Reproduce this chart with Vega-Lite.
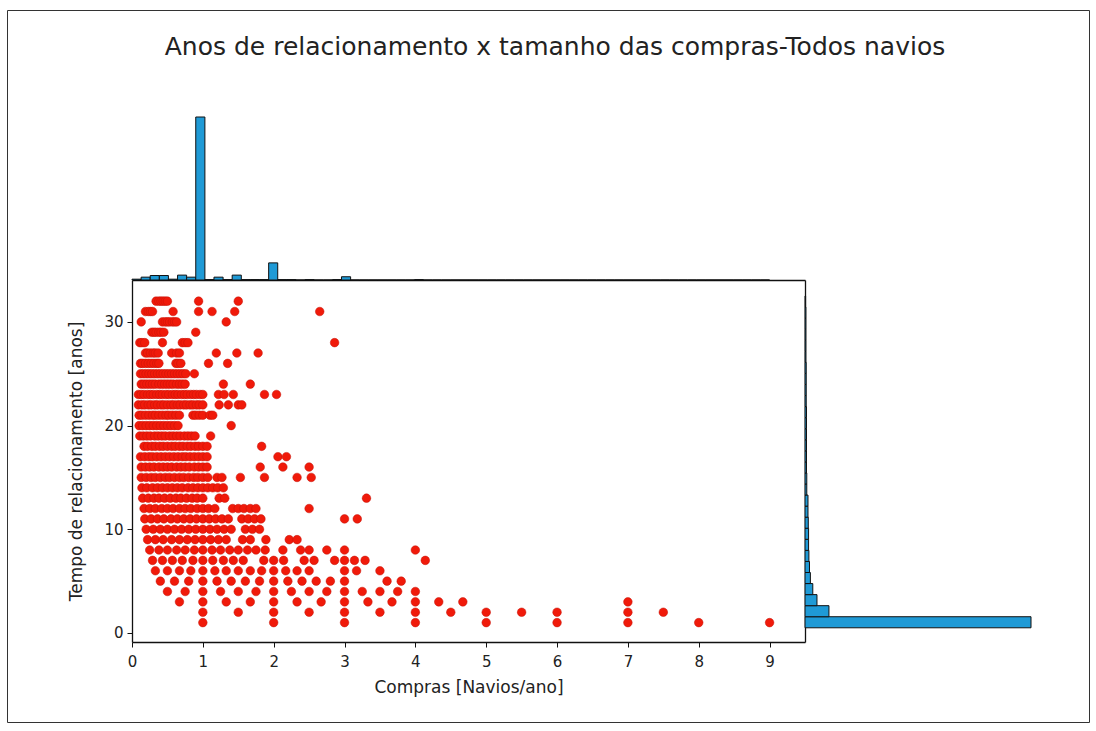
{
  "$schema": "https://vega.github.io/schema/vega-lite/v6.json",
  "width": 1082,
  "height": 712,
  "autosize": {"type": "none"},
  "padding": {"left": 7, "top": 10, "right": 7, "bottom": 9},
  "background": "white",
  "title": {
    "text": "Anos de relacionamento x tamanho das compras-Todos navios",
    "anchor": "middle",
    "frame": "group",
    "offset": -44,
    "baseline": "alphabetic",
    "dx": 7,
    "dy": 26,
    "font": "DejaVu Sans",
    "fontSize": 25,
    "fontWeight": "normal",
    "color": "#222222"
  },
  "config": {
    "view": {"stroke": "#333333", "strokeWidth": 1},
    "axis": {
      "grid": false,
      "labelFont": "DejaVu Sans",
      "labelFontSize": 15,
      "labelColor": "#222222",
      "titleFont": "DejaVu Sans",
      "titleFontSize": 17,
      "titleFontWeight": "normal",
      "titleColor": "#222222",
      "domainColor": "#111111",
      "domainWidth": 1.3,
      "tickColor": "#111111",
      "labelFlush": false,
      "labelOverlap": false
    }
  },
  "datasets": {
    "pts": [
      {"x":0.34,"y":32},{"x":0.38,"y":32},{"x":0.41,"y":32},{"x":0.44,"y":32},{"x":0.47,"y":32},{"x":0.5,"y":32},{"x":0.94,"y":32},{"x":1.5,"y":32},
      {"x":0.19,"y":31},{"x":0.23,"y":31},{"x":0.26,"y":31},{"x":0.29,"y":31},{"x":0.58,"y":31},{"x":0.94,"y":31},{"x":1.13,"y":31},{"x":1.45,"y":31},{"x":2.65,"y":31},
      {"x":0.13,"y":30},{"x":0.43,"y":30},{"x":0.47,"y":30},{"x":0.5,"y":30},{"x":0.53,"y":30},{"x":0.57,"y":30},{"x":0.6,"y":30},{"x":0.63,"y":30},{"x":1.33,"y":30},
      {"x":0.28,"y":29},{"x":0.31,"y":29},{"x":0.34,"y":29},{"x":0.38,"y":29},{"x":0.41,"y":29},{"x":0.45,"y":29},{"x":0.9,"y":29},
      {"x":0.11,"y":28},{"x":0.14,"y":28},{"x":0.18,"y":28},{"x":0.43,"y":28},{"x":0.71,"y":28},{"x":0.75,"y":28},{"x":0.79,"y":28},{"x":2.86,"y":28},
      {"x":0.19,"y":27},{"x":0.22,"y":27},{"x":0.26,"y":27},{"x":0.3,"y":27},{"x":0.33,"y":27},{"x":0.37,"y":27},{"x":0.56,"y":27},{"x":0.63,"y":27},{"x":0.67,"y":27},{"x":1.19,"y":27},{"x":1.48,"y":27},{"x":1.78,"y":27},
      {"x":0.12,"y":26},{"x":0.15,"y":26},{"x":0.19,"y":26},{"x":0.23,"y":26},{"x":0.27,"y":26},{"x":0.31,"y":26},{"x":0.35,"y":26},{"x":0.38,"y":26},{"x":0.62,"y":26},{"x":0.65,"y":26},{"x":0.69,"y":26},{"x":1.08,"y":26},{"x":1.35,"y":26},
      {"x":0.12,"y":25},{"x":0.16,"y":25},{"x":0.2,"y":25},{"x":0.24,"y":25},{"x":0.28,"y":25},{"x":0.32,"y":25},{"x":0.36,"y":25},{"x":0.4,"y":25},{"x":0.44,"y":25},{"x":0.48,"y":25},{"x":0.52,"y":25},{"x":0.56,"y":25},{"x":0.6,"y":25},{"x":0.64,"y":25},{"x":0.68,"y":25},{"x":0.72,"y":25},{"x":0.76,"y":25},{"x":0.88,"y":25},
      {"x":0.13,"y":24},{"x":0.17,"y":24},{"x":0.21,"y":24},{"x":0.25,"y":24},{"x":0.29,"y":24},{"x":0.33,"y":24},{"x":0.38,"y":24},{"x":0.42,"y":24},{"x":0.46,"y":24},{"x":0.5,"y":24},{"x":0.54,"y":24},{"x":0.58,"y":24},{"x":0.63,"y":24},{"x":0.67,"y":24},{"x":0.71,"y":24},{"x":0.75,"y":24},{"x":1.29,"y":24},{"x":1.67,"y":24},
      {"x":0.09,"y":23},{"x":0.13,"y":23},{"x":0.17,"y":23},{"x":0.22,"y":23},{"x":0.26,"y":23},{"x":0.3,"y":23},{"x":0.35,"y":23},{"x":0.39,"y":23},{"x":0.43,"y":23},{"x":0.48,"y":23},{"x":0.52,"y":23},{"x":0.57,"y":23},{"x":0.61,"y":23},{"x":0.65,"y":23},{"x":0.7,"y":23},{"x":0.74,"y":23},{"x":0.78,"y":23},{"x":0.83,"y":23},{"x":0.87,"y":23},{"x":0.91,"y":23},{"x":0.96,"y":23},{"x":1.0,"y":23},{"x":1.22,"y":23},{"x":1.3,"y":23},{"x":1.43,"y":23},{"x":1.87,"y":23},{"x":2.04,"y":23},
      {"x":0.09,"y":22},{"x":0.14,"y":22},{"x":0.18,"y":22},{"x":0.23,"y":22},{"x":0.27,"y":22},{"x":0.32,"y":22},{"x":0.36,"y":22},{"x":0.41,"y":22},{"x":0.45,"y":22},{"x":0.5,"y":22},{"x":0.55,"y":22},{"x":0.59,"y":22},{"x":0.64,"y":22},{"x":0.68,"y":22},{"x":0.73,"y":22},{"x":0.77,"y":22},{"x":0.82,"y":22},{"x":0.86,"y":22},{"x":0.91,"y":22},{"x":0.95,"y":22},{"x":1.0,"y":22},{"x":1.23,"y":22},{"x":1.36,"y":22},{"x":1.5,"y":22},{"x":1.55,"y":22},
      {"x":0.1,"y":21},{"x":0.14,"y":21},{"x":0.19,"y":21},{"x":0.24,"y":21},{"x":0.29,"y":21},{"x":0.33,"y":21},{"x":0.38,"y":21},{"x":0.43,"y":21},{"x":0.48,"y":21},{"x":0.52,"y":21},{"x":0.57,"y":21},{"x":0.62,"y":21},{"x":0.67,"y":21},{"x":0.86,"y":21},{"x":0.9,"y":21},{"x":0.95,"y":21},{"x":1.0,"y":21},{"x":1.1,"y":21},{"x":1.14,"y":21},
      {"x":0.1,"y":20},{"x":0.15,"y":20},{"x":0.2,"y":20},{"x":0.25,"y":20},{"x":0.3,"y":20},{"x":0.35,"y":20},{"x":0.4,"y":20},{"x":0.45,"y":20},{"x":0.5,"y":20},{"x":0.55,"y":20},{"x":0.6,"y":20},{"x":0.65,"y":20},{"x":1.4,"y":20},
      {"x":0.11,"y":19},{"x":0.16,"y":19},{"x":0.21,"y":19},{"x":0.26,"y":19},{"x":0.32,"y":19},{"x":0.37,"y":19},{"x":0.42,"y":19},{"x":0.47,"y":19},{"x":0.53,"y":19},{"x":0.58,"y":19},{"x":0.63,"y":19},{"x":0.68,"y":19},{"x":0.74,"y":19},{"x":0.79,"y":19},{"x":0.84,"y":19},{"x":0.89,"y":19},{"x":1.11,"y":19},
      {"x":0.17,"y":18},{"x":0.22,"y":18},{"x":0.28,"y":18},{"x":0.33,"y":18},{"x":0.39,"y":18},{"x":0.44,"y":18},{"x":0.5,"y":18},{"x":0.56,"y":18},{"x":0.61,"y":18},{"x":0.67,"y":18},{"x":0.72,"y":18},{"x":0.78,"y":18},{"x":0.83,"y":18},{"x":0.89,"y":18},{"x":0.94,"y":18},{"x":1.0,"y":18},{"x":1.06,"y":18},{"x":1.83,"y":18},
      {"x":0.12,"y":17},{"x":0.18,"y":17},{"x":0.24,"y":17},{"x":0.29,"y":17},{"x":0.35,"y":17},{"x":0.41,"y":17},{"x":0.47,"y":17},{"x":0.53,"y":17},{"x":0.59,"y":17},{"x":0.65,"y":17},{"x":0.71,"y":17},{"x":0.76,"y":17},{"x":0.82,"y":17},{"x":0.88,"y":17},{"x":0.94,"y":17},{"x":1.0,"y":17},{"x":1.06,"y":17},{"x":2.06,"y":17},{"x":2.18,"y":17},
      {"x":0.13,"y":16},{"x":0.19,"y":16},{"x":0.25,"y":16},{"x":0.31,"y":16},{"x":0.38,"y":16},{"x":0.44,"y":16},{"x":0.5,"y":16},{"x":0.56,"y":16},{"x":0.63,"y":16},{"x":0.69,"y":16},{"x":0.75,"y":16},{"x":0.81,"y":16},{"x":0.88,"y":16},{"x":0.94,"y":16},{"x":1.0,"y":16},{"x":1.06,"y":16},{"x":1.81,"y":16},{"x":2.13,"y":16},{"x":2.5,"y":16},
      {"x":0.13,"y":15},{"x":0.2,"y":15},{"x":0.27,"y":15},{"x":0.33,"y":15},{"x":0.4,"y":15},{"x":0.47,"y":15},{"x":0.53,"y":15},{"x":0.6,"y":15},{"x":0.67,"y":15},{"x":0.73,"y":15},{"x":0.8,"y":15},{"x":0.87,"y":15},{"x":0.93,"y":15},{"x":1.0,"y":15},{"x":1.07,"y":15},{"x":1.2,"y":15},{"x":1.27,"y":15},{"x":1.53,"y":15},{"x":1.87,"y":15},{"x":2.33,"y":15},{"x":2.53,"y":15},
      {"x":0.14,"y":14},{"x":0.21,"y":14},{"x":0.29,"y":14},{"x":0.36,"y":14},{"x":0.43,"y":14},{"x":0.5,"y":14},{"x":0.57,"y":14},{"x":0.64,"y":14},{"x":0.71,"y":14},{"x":0.79,"y":14},{"x":0.86,"y":14},{"x":0.93,"y":14},{"x":1.0,"y":14},{"x":1.07,"y":14},{"x":1.14,"y":14},{"x":1.21,"y":14},{"x":1.29,"y":14},
      {"x":0.15,"y":13},{"x":0.23,"y":13},{"x":0.31,"y":13},{"x":0.38,"y":13},{"x":0.46,"y":13},{"x":0.54,"y":13},{"x":0.62,"y":13},{"x":0.69,"y":13},{"x":0.77,"y":13},{"x":0.85,"y":13},{"x":0.92,"y":13},{"x":1.0,"y":13},{"x":1.23,"y":13},{"x":1.31,"y":13},{"x":3.31,"y":13},
      {"x":0.17,"y":12},{"x":0.25,"y":12},{"x":0.33,"y":12},{"x":0.42,"y":12},{"x":0.5,"y":12},{"x":0.58,"y":12},{"x":0.67,"y":12},{"x":0.75,"y":12},{"x":0.83,"y":12},{"x":0.92,"y":12},{"x":1.0,"y":12},{"x":1.08,"y":12},{"x":1.17,"y":12},{"x":1.42,"y":12},{"x":1.5,"y":12},{"x":1.58,"y":12},{"x":1.67,"y":12},{"x":1.75,"y":12},{"x":2.5,"y":12},
      {"x":0.18,"y":11},{"x":0.27,"y":11},{"x":0.36,"y":11},{"x":0.45,"y":11},{"x":0.55,"y":11},{"x":0.64,"y":11},{"x":0.73,"y":11},{"x":0.82,"y":11},{"x":0.91,"y":11},{"x":1.0,"y":11},{"x":1.09,"y":11},{"x":1.18,"y":11},{"x":1.27,"y":11},{"x":1.36,"y":11},{"x":1.55,"y":11},{"x":1.64,"y":11},{"x":1.73,"y":11},{"x":1.82,"y":11},{"x":3.0,"y":11},{"x":3.18,"y":11},
      {"x":0.2,"y":10},{"x":0.3,"y":10},{"x":0.4,"y":10},{"x":0.5,"y":10},{"x":0.6,"y":10},{"x":0.7,"y":10},{"x":0.8,"y":10},{"x":0.9,"y":10},{"x":1.0,"y":10},{"x":1.1,"y":10},{"x":1.2,"y":10},{"x":1.3,"y":10},{"x":1.4,"y":10},{"x":1.6,"y":10},{"x":1.7,"y":10},{"x":1.8,"y":10},
      {"x":0.22,"y":9},{"x":0.33,"y":9},{"x":0.44,"y":9},{"x":0.56,"y":9},{"x":0.67,"y":9},{"x":0.78,"y":9},{"x":0.89,"y":9},{"x":1.0,"y":9},{"x":1.11,"y":9},{"x":1.22,"y":9},{"x":1.33,"y":9},{"x":1.56,"y":9},{"x":1.67,"y":9},{"x":1.89,"y":9},{"x":2.22,"y":9},{"x":2.33,"y":9},
      {"x":0.25,"y":8},{"x":0.38,"y":8},{"x":0.5,"y":8},{"x":0.63,"y":8},{"x":0.75,"y":8},{"x":0.88,"y":8},{"x":1.0,"y":8},{"x":1.13,"y":8},{"x":1.25,"y":8},{"x":1.38,"y":8},{"x":1.5,"y":8},{"x":1.63,"y":8},{"x":1.75,"y":8},{"x":1.88,"y":8},{"x":2.13,"y":8},{"x":2.38,"y":8},{"x":2.5,"y":8},{"x":2.75,"y":8},{"x":3.0,"y":8},{"x":4.0,"y":8},
      {"x":0.29,"y":7},{"x":0.43,"y":7},{"x":0.57,"y":7},{"x":0.71,"y":7},{"x":0.86,"y":7},{"x":1.0,"y":7},{"x":1.14,"y":7},{"x":1.29,"y":7},{"x":1.43,"y":7},{"x":1.57,"y":7},{"x":1.86,"y":7},{"x":2.0,"y":7},{"x":2.14,"y":7},{"x":2.43,"y":7},{"x":2.57,"y":7},{"x":2.86,"y":7},{"x":3.0,"y":7},{"x":3.14,"y":7},{"x":3.29,"y":7},{"x":4.14,"y":7},
      {"x":0.33,"y":6},{"x":0.5,"y":6},{"x":0.67,"y":6},{"x":0.83,"y":6},{"x":1.0,"y":6},{"x":1.17,"y":6},{"x":1.33,"y":6},{"x":1.5,"y":6},{"x":1.67,"y":6},{"x":1.83,"y":6},{"x":2.0,"y":6},{"x":2.17,"y":6},{"x":2.33,"y":6},{"x":2.5,"y":6},{"x":3.0,"y":6},{"x":3.17,"y":6},{"x":3.5,"y":6},
      {"x":0.4,"y":5},{"x":0.6,"y":5},{"x":0.8,"y":5},{"x":1.0,"y":5},{"x":1.2,"y":5},{"x":1.4,"y":5},{"x":1.6,"y":5},{"x":1.8,"y":5},{"x":2.0,"y":5},{"x":2.2,"y":5},{"x":2.4,"y":5},{"x":2.6,"y":5},{"x":2.8,"y":5},{"x":3.0,"y":5},{"x":3.6,"y":5},{"x":3.8,"y":5},
      {"x":0.5,"y":4},{"x":0.75,"y":4},{"x":1.0,"y":4},{"x":1.25,"y":4},{"x":1.5,"y":4},{"x":1.75,"y":4},{"x":2.0,"y":4},{"x":2.25,"y":4},{"x":2.5,"y":4},{"x":2.75,"y":4},{"x":3.0,"y":4},{"x":3.25,"y":4},{"x":3.5,"y":4},{"x":3.75,"y":4},{"x":4.0,"y":4},
      {"x":0.67,"y":3},{"x":1.0,"y":3},{"x":1.33,"y":3},{"x":1.67,"y":3},{"x":2.0,"y":3},{"x":2.33,"y":3},{"x":2.67,"y":3},{"x":3.0,"y":3},{"x":3.33,"y":3},{"x":3.67,"y":3},{"x":4.0,"y":3},{"x":4.33,"y":3},{"x":4.67,"y":3},{"x":7.0,"y":3},
      {"x":1.0,"y":2},{"x":1.5,"y":2},{"x":2.0,"y":2},{"x":2.5,"y":2},{"x":3.0,"y":2},{"x":3.5,"y":2},{"x":4.0,"y":2},{"x":4.5,"y":2},{"x":5.0,"y":2},{"x":5.5,"y":2},{"x":6.0,"y":2},{"x":7.0,"y":2},{"x":7.5,"y":2},
      {"x":1,"y":1},{"x":2,"y":1},{"x":3,"y":1},{"x":4,"y":1},{"x":5,"y":1},{"x":6,"y":1},{"x":7,"y":1},{"x":8,"y":1},{"x":9,"y":1}
    ],
    "topHist": [
      {"b0":0,"b1":0.129,"c":2},{"b0":0.129,"b1":0.257,"c":7},{"b0":0.257,"b1":0.386,"c":11},{"b0":0.386,"b1":0.514,"c":11},
      {"b0":0.514,"b1":0.643,"c":2},{"b0":0.643,"b1":0.771,"c":12},{"b0":0.771,"b1":0.9,"c":7},{"b0":0.9,"b1":1.029,"c":400},
      {"b0":1.029,"b1":1.157,"c":1},{"b0":1.157,"b1":1.286,"c":7},{"b0":1.286,"b1":1.414,"c":1},{"b0":1.414,"b1":1.543,"c":12},
      {"b0":1.543,"b1":1.671,"c":1},{"b0":1.671,"b1":1.8,"c":1},{"b0":1.8,"b1":1.929,"c":1},{"b0":1.929,"b1":2.057,"c":42},
      {"b0":2.057,"b1":2.186,"c":1},{"b0":2.186,"b1":2.314,"c":1},{"b0":2.314,"b1":2.443,"c":0},{"b0":2.443,"b1":2.571,"c":1},
      {"b0":2.571,"b1":2.7,"c":0},{"b0":2.7,"b1":2.829,"c":0},{"b0":2.829,"b1":2.957,"c":1},{"b0":2.957,"b1":3.086,"c":8},
      {"b0":3.086,"b1":3.214,"c":0},{"b0":3.214,"b1":3.343,"c":0},{"b0":3.343,"b1":3.471,"c":0},{"b0":3.471,"b1":3.6,"c":0},
      {"b0":3.6,"b1":3.729,"c":0},{"b0":3.729,"b1":3.857,"c":0},{"b0":3.857,"b1":3.986,"c":0},{"b0":3.986,"b1":4.114,"c":1},
      {"b0":4.114,"b1":4.243,"c":0},{"b0":4.243,"b1":4.371,"c":0},{"b0":4.371,"b1":4.5,"c":0},{"b0":4.5,"b1":4.629,"c":0},
      {"b0":4.629,"b1":4.757,"c":0},{"b0":4.757,"b1":4.886,"c":0},{"b0":4.886,"b1":5.014,"c":0},{"b0":5.014,"b1":5.143,"c":0},
      {"b0":5.143,"b1":5.271,"c":0},{"b0":5.271,"b1":5.4,"c":0},{"b0":5.4,"b1":5.529,"c":0},{"b0":5.529,"b1":5.657,"c":0},
      {"b0":5.657,"b1":5.786,"c":0},{"b0":5.786,"b1":5.914,"c":0},{"b0":5.914,"b1":6.043,"c":0},{"b0":6.043,"b1":6.171,"c":0},
      {"b0":6.171,"b1":6.3,"c":0},{"b0":6.3,"b1":6.429,"c":0},{"b0":6.429,"b1":6.557,"c":0},{"b0":6.557,"b1":6.686,"c":0},
      {"b0":6.686,"b1":6.814,"c":0},{"b0":6.814,"b1":6.943,"c":0},{"b0":6.943,"b1":7.071,"c":0},{"b0":7.071,"b1":7.2,"c":0},
      {"b0":7.2,"b1":7.329,"c":0},{"b0":7.329,"b1":7.457,"c":0},{"b0":7.457,"b1":7.586,"c":0},{"b0":7.586,"b1":7.714,"c":0},
      {"b0":7.714,"b1":7.843,"c":0},{"b0":7.843,"b1":7.971,"c":0},{"b0":7.971,"b1":8.1,"c":0},{"b0":8.1,"b1":8.229,"c":0},
      {"b0":8.229,"b1":8.357,"c":0},{"b0":8.357,"b1":8.486,"c":0},{"b0":8.486,"b1":8.614,"c":0},{"b0":8.614,"b1":8.743,"c":0},
      {"b0":8.743,"b1":8.871,"c":0},{"b0":8.871,"b1":9.0,"c":0}
    ],
    "rightHist": [
      {"b0":0.5,"b1":1.567,"c":755},{"b0":1.567,"b1":2.633,"c":80},{"b0":2.633,"b1":3.7,"c":40},{"b0":3.7,"b1":4.767,"c":26},
      {"b0":4.767,"b1":5.833,"c":18},{"b0":5.833,"b1":6.9,"c":15},{"b0":6.9,"b1":7.967,"c":13},{"b0":7.967,"b1":9.033,"c":12},
      {"b0":9.033,"b1":10.1,"c":12},{"b0":10.1,"b1":11.167,"c":11},{"b0":11.167,"b1":12.233,"c":10},{"b0":12.233,"b1":13.3,"c":10},
      {"b0":13.3,"b1":14.367,"c":6},{"b0":14.367,"b1":15.433,"c":6},{"b0":15.433,"b1":16.5,"c":5},{"b0":16.5,"b1":17.567,"c":5},
      {"b0":17.567,"b1":18.633,"c":5},{"b0":18.633,"b1":19.7,"c":5},{"b0":19.7,"b1":20.767,"c":5},{"b0":20.767,"b1":21.833,"c":5},
      {"b0":21.833,"b1":22.9,"c":4},{"b0":22.9,"b1":23.967,"c":4},{"b0":23.967,"b1":25.033,"c":4},{"b0":25.033,"b1":26.1,"c":4},
      {"b0":26.1,"b1":27.167,"c":3},{"b0":27.167,"b1":28.233,"c":3},{"b0":28.233,"b1":29.3,"c":3},{"b0":29.3,"b1":30.367,"c":3},
      {"b0":30.367,"b1":31.433,"c":3},{"b0":31.433,"b1":32.5,"c":2}
    ]
  },
  "resolve": {"scale": {"x": "independent", "y": "independent"}},
  "layer": [
    {
      "data": {"name": "pts"},
      "mark": {"type": "circle", "size": 74, "color": "#f01a0a", "opacity": 1, "stroke": "#c41208", "strokeWidth": 0.5},
      "encoding": {
        "x": {
          "field": "x", "type": "quantitative",
          "scale": {"domain": [0, 9.5], "range": [125, 798], "nice": false, "zero": false},
          "axis": {"orient": "bottom", "offset": -80, "values": [0,1,2,3,4,5,6,7,8,9], "title": "Compras [Navios/ano]", "tickSize": 5, "labelPadding": 7, "titlePadding": 10}
        },
        "y": {
          "field": "y", "type": "quantitative",
          "scale": {"domain": [-0.87, 34.04], "range": [632, 270], "nice": false, "zero": false},
          "axis": {"orient": "left", "offset": -125, "values": [0,10,20,30], "title": "Tempo de relacionamento [anos]", "tickSize": 5, "labelPadding": 4, "titlePadding": 18}
        }
      }
    },
    {
      "data": {"name": "topHist"},
      "mark": {"type": "rect", "fill": "#1f9ad6", "stroke": "#111111", "strokeWidth": 1},
      "encoding": {
        "x": {
          "field": "b0", "type": "quantitative",
          "scale": {"domain": [0, 9.5], "range": [125, 798], "nice": false, "zero": false},
          "axis": {"orient": "top", "offset": -270, "ticks": false, "labels": false, "title": null, "domain": true}
        },
        "x2": {"field": "b1"},
        "y": {
          "field": "c", "type": "quantitative",
          "scale": {"domain": [0, 400], "range": [270, 107], "nice": false},
          "axis": null
        },
        "y2": {"datum": 0}
      }
    },
    {
      "data": {"name": "rightHist"},
      "mark": {"type": "rect", "fill": "#1f9ad6", "stroke": "#111111", "strokeWidth": 1},
      "encoding": {
        "y": {
          "field": "b0", "type": "quantitative",
          "scale": {"domain": [-0.87, 34.04], "range": [632, 270], "nice": false, "zero": false},
          "axis": {"orient": "right", "offset": -284, "ticks": false, "labels": false, "title": null, "domain": true}
        },
        "y2": {"field": "b1"},
        "x": {
          "field": "c", "type": "quantitative",
          "scale": {"domain": [0, 755], "range": [798, 1024], "nice": false},
          "axis": null
        },
        "x2": {"datum": 0}
      }
    }
  ]
}
